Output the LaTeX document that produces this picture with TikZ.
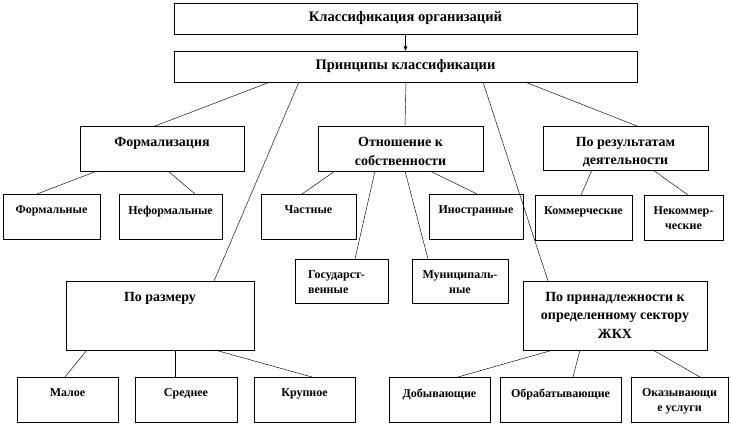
\documentclass[tikz,border=0pt]{standalone}
\usepackage{fontspec}
\setmainfont{Liberation Serif}
\usetikzlibrary{arrows.meta}
\usetikzlibrary{calc}

\begin{document}
\begin{tikzpicture}[x = 1pt, y = -1pt, >=Stealth, line width = 0.5pt,
						box/.style = {rectangle, draw, anchor = north west, inner sep = 0pt, outer sep = 0pt, line width = 0.6pt},
						top node/.style = {box, minimum width = 463, minimum height = 31, font = \bfseries\fontsize{14.5}{16}\selectfont},
						head node/.style = {box, label = {[head text]north:{#1}}},
						sub node/.style = {box, label = {[sub text]north:{#1}}},
						head text/.style = {anchor = north, align = center, inner sep = 0pt, yshift = -11pt, font = \bfseries\fontsize{14}{18.5}\selectfont},
						sub text/.style = {anchor = north, align = center, inner sep = 0pt, yshift = -11.5pt, font = \bfseries\fontsize{12}{14.5}\selectfont},
						conn/.style = {draw, line width = 0.45pt}]
		\useasboundingbox (0,0) rectangle (731,424);

		\node[top node] (title) at (174,3) {Классификация организаций};
		\node[top node] (princ) at (174,51) {Принципы классификации};

		\node[head node = {Формализация}, minimum width = 164, minimum height = 45] (form) at (80,126) {};
		\node[head node = {Отношение к\\собственности}, minimum width = 165, minimum height = 45] (own) at (318,126) {};
		\node[head node = {По результатам\\деятельности}, minimum width = 165, minimum height = 44] (res) at (543,126) {};
		\node[head node = {По размеру}, minimum width = 188, minimum height = 69] (size) at (66,281) {};
		\node[head node = {По принадлежности к\\определенному сектору\\ЖКХ}, minimum width = 184, minimum height = 69] (sector) at (523,281) {};

		\node[sub node = {Формальные}, minimum width = 97, minimum height = 45] (frm) at (3,194) {};
		\node[sub node = {Неформальные}, minimum width = 103, minimum height = 45] (infrm) at (119,194) {};
		\node[sub node = {Частные}, minimum width = 95, minimum height = 45] (priv) at (261,194) {};
		\node[sub node = {Иностранные}, minimum width = 94, minimum height = 45] (frgn) at (429,194) {};
		\node[sub node = {Коммерческие}, minimum width = 97, minimum height = 45] (comm) at (535,195) {};
		\node[sub node = {Некоммер-\\ческие}, minimum width = 79, minimum height = 45] (ncomm) at (644,195) {};
		\node[box, minimum width = 93, minimum height = 44, label = {[sub text, align = left, xshift = -5pt]north:{Государст-\\венные}}] (gov) at (295,259) {};
		\node[sub node = {Муниципаль-\\ные}, minimum width = 96, minimum height = 44] (mun) at (412,259) {};

		\node[sub node = {Малое}, minimum width = 101, minimum height = 45] (small) at (17,377) {};
		\node[sub node = {Среднее}, minimum width = 102, minimum height = 45] (medium) at (135,377) {};
		\node[sub node = {Крупное}, minimum width = 101, minimum height = 45] (large) at (254,377) {};
		\node[sub node = {Добывающие}, minimum width = 101, minimum height = 45] (extr) at (389,377) {};
		\node[sub node = {Обрабатывающие}, minimum width = 121, minimum height = 45] (proc) at (500,377) {};
		\node[sub node = {Оказывающи\\е услуги}, minimum width = 97, minimum height = 45] (serv) at (631,377) {};

		\draw[->] (title) -- (princ);

		\path[conn]
		($(princ.south west)+(96,0)$) edge ($(form.north west)+(75,0)$)
		($(princ.south west)+(125,0)$) edge ($(size.north west)+(148,0)$)
		($(princ.south west)+(232,0)$) edge ($(own.north west)+(87,0)$)
		($(princ.south west)+(309,0)$) edge ($(sector.north west)+(25,0)$)
		($(princ.south west)+(351,0)$) edge ($(res.north west)+(94,0)$)
		($(form.south west)+(17,0)$) edge ($(frm.north west)+(34,0)$)
		($(form.south west)+(88,0)$) edge ($(infrm.north west)+(76,0)$)
		($(own.south west)+(17,0)$) edge ($(priv.north west)+(41,0)$)
		($(own.south west)+(57,0)$) edge ($(gov.north west)+(60,0)$)
		($(own.south west)+(87,0)$) edge ($(mun.north west)+(16,0)$)
		($(own.south west)+(112,0)$) edge ($(frgn.north west)+(48,0)$)
		($(res.south west)+(49,0)$) edge ($(comm.north west)+(46,0)$)
		($(res.south west)+(110,0)$) edge ($(ncomm.north west)+(44,0)$)
		($(size.south west)+(21,0)$) edge ($(small.north west)+(48,0)$)
		($(size.south west)+(109,0)$) edge ($(medium.north west)+(40,0)$)
		($(size.south west)+(149,0)$) edge ($(large.north west)+(58,0)$)
		($(sector.south west)+(30,0)$) edge ($(extr.north west)+(69,0)$)
		($(sector.south west)+(57,0)$) edge ($(proc.north west)+(73,0)$)
		($(sector.south west)+(130,0)$) edge ($(serv.north west)+(69,0)$);

	\end{tikzpicture}
\end{document}
